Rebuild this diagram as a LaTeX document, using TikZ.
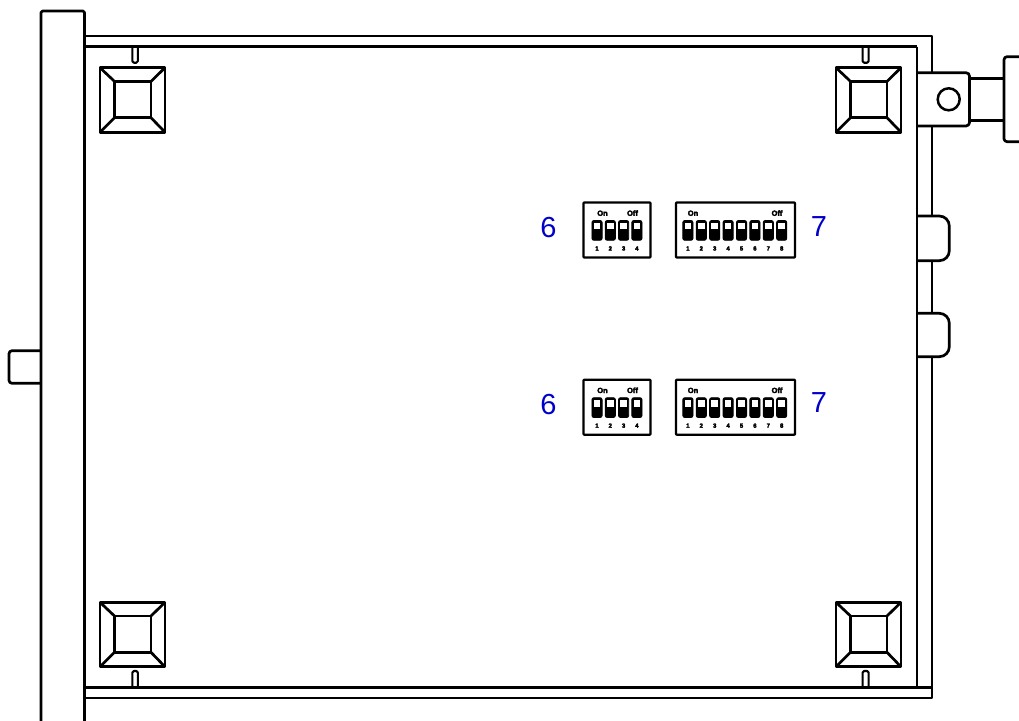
\documentclass[tikz,border=0pt]{standalone}
\usepackage{fontspec}
\setmainfont{Liberation Sans}
\newfontfamily\blobfont[FakeBold=4]{Liberation Sans Bold}
\definecolor{labelblue}{RGB}{0,0,200}
\tikzset{
  ln/.style={line width=2.7pt,draw=black,line join=round},
  boxln/.style={line width=2.3pt,draw=black,line join=round},
  num/.style={text=labelblue,font=\fontsize{29}{29}\selectfont,inner sep=0pt},
  tiny/.style={text=black,font=\fontsize{6}{6}\selectfont\blobfont,inner sep=0pt,anchor=base},
  tinyon/.style={text=black,font=\fontsize{7.5}{7.5}\selectfont\blobfont,inner sep=0pt,anchor=base},
  sw/.style={fill=black,draw=black,line width=.8pt,rounded corners=2pt},
  win/.style={fill=white}
}
\newcommand{\foot}[2]{% top-left x, top-left y of a 65 x 64.5 foot
  \begin{scope}[shift={(#1,#2)}]
    \draw[ln] (0,0) rectangle (65,64.5);
    \draw[ln] (14.5,13.7) rectangle (51,50);
    \draw[ln] (0,0)--(14.5,13.7) (65,0)--(51,13.7) (0,64.5)--(14.5,50) (65,64.5)--(51,50);
  \end{scope}}
\newcommand{\dipswitch}[6]{% #1 x, #2 y, #3 width, #4 count-1, #5 on x offset, #6 off x offset
  \begin{scope}[shift={(#1,#2)}]
    \draw[boxln,rounded corners=.8pt] (0,0) rectangle (#3,55);
    \node[tinyon] at (#5,13.3) {On};
    \node[tinyon] at (#6,13.3) {Off};
    \foreach \i in {0,...,#4}{
      \pgfmathsetmacro{\xa}{\ifnum#4=3 8.4+13.3*\i\else 6.8+13.4*\i\fi}
      \draw[sw] (\xa,18) rectangle ++(10.2,19.8);
      \fill[win] (\xa+1.8,20) rectangle ++(6.6,6.8);
      \pgfmathtruncatemacro{\n}{\i+1}
      \node[tiny] at (\xa+5.1,48) {\n};
    }
  \end{scope}}
\begin{document}
\begin{tikzpicture}[x=1pt,y=-1pt]
\useasboundingbox (0,0) rectangle (1019,720);
\clip (0,0) rectangle (1019,720);
% front panel
\draw[ln,rounded corners=1.5pt] (41,725)--(41,11)--(84.5,11)--(84.5,725);
\draw[ln,rounded corners=3pt] (41,350.7)--(9,350.7)--(9,383.3)--(41,383.3);
% chassis rails
\draw[ln] (84.5,36)--(932,36)--(932,72.7);
\draw[ln] (84.5,46.5)--(917,46.5);
\draw[ln] (84.5,687.7)--(932,687.7);
\draw[ln] (84.5,698)--(932,698)--(932,356.7);
\draw[ln] (932,313.3)--(932,260.7);
\draw[ln] (932,216)--(932,126);
\draw[ln] (917,46.5)--(917,687.7);
% side tabs
\draw[ln,rounded corners=10pt] (917,216)--(949.3,216)--(949.3,260.7)--(917,260.7);
\draw[ln,rounded corners=10pt] (917,313.3)--(949.3,313.3)--(949.3,356.7)--(917,356.7);
% connector
\draw[ln,rounded corners=3.5pt] (917,72.7)--(969.5,72.7)--(969.5,126)--(917,126);
\draw[ln] (969.5,78.5)--(1004,78.5) (969.5,120.7)--(1004,120.7);
\draw[ln,rounded corners=3pt] (1025,56.7)--(1004,56.7)--(1004,141.7)--(1025,141.7);
\node[circle,draw=black,line width=2.5pt,minimum size=22pt,inner sep=0pt] (hole) at (948.7,99.3) {};
% feet
\foot{100}{67.7}
\foot{836}{67.7}
\foot{100}{602.3}
\foot{836}{602.3}
% notches
\draw[ln,line width=2.1pt,rounded corners=1.5pt] (132.4,46.5)--(132.4,62.7)--(137.8,62.7)--(137.8,46.5);
\draw[ln,line width=2.1pt,rounded corners=1.5pt] (862.6,46.5)--(862.6,62.7)--(868.6,62.7)--(868.6,46.5);
\draw[ln,line width=2.1pt,rounded corners=1.5pt] (132.4,687.7)--(132.4,671)--(137.8,671)--(137.8,687.7);
\draw[ln,line width=2.1pt,rounded corners=1.5pt] (862.6,687.7)--(862.6,671)--(868.6,671)--(868.6,687.7);
% DIP switches
\dipswitch{583.5}{202.5}{67}{3}{19}{49}
\dipswitch{676}{202.5}{119}{7}{17}{101}
\dipswitch{583.5}{379.7}{67}{3}{19}{49}
\dipswitch{676}{379.7}{119}{7}{17}{101}
% labels
\node[num] (l6a) at (548.5,228) {6};
\node[num] (l7a) at (819,227) {7};
\node[num] (l6b) at (548.5,405) {6};
\node[num] (l7b) at (819,403) {7};
\end{tikzpicture}
\end{document}
